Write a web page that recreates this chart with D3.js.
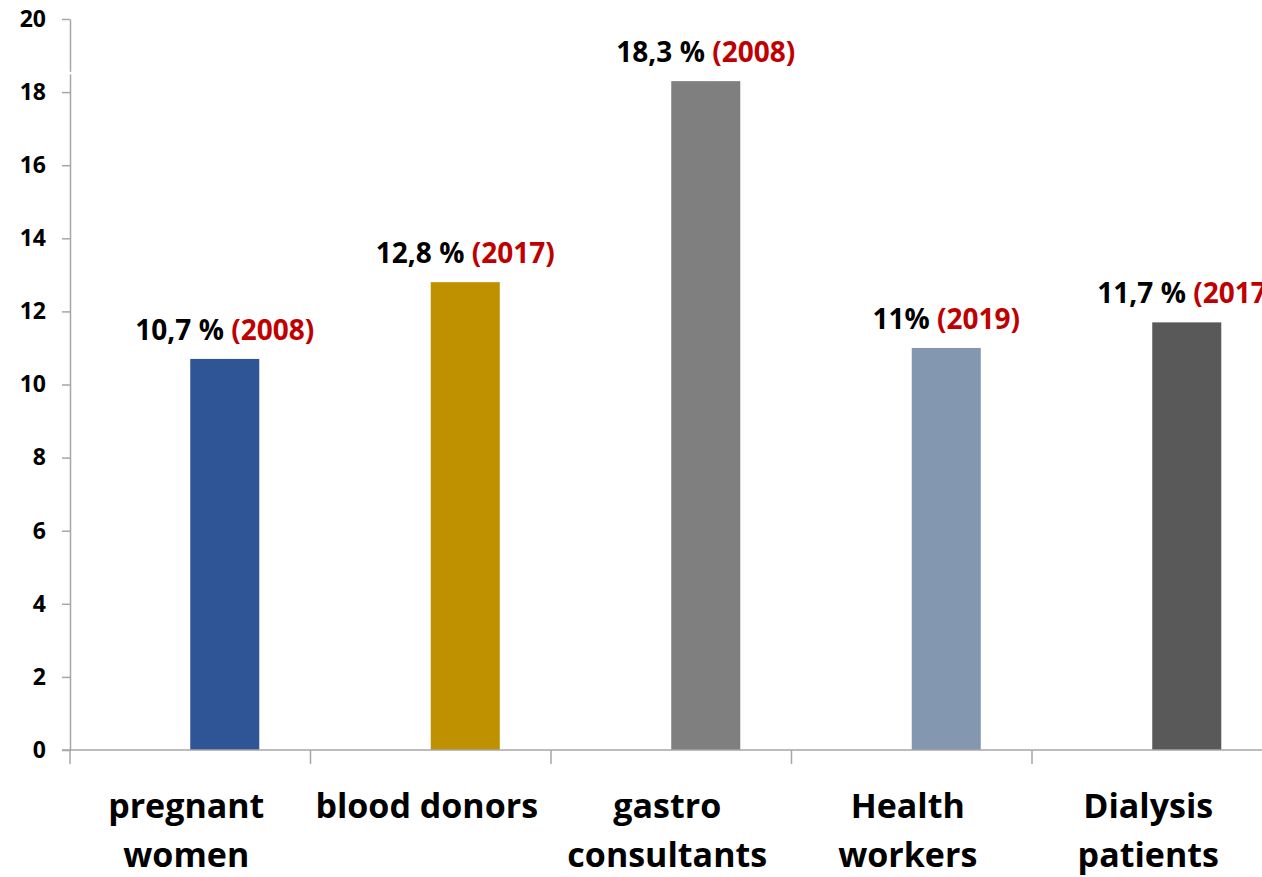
<!DOCTYPE html>
<html>
<head>
<meta charset="utf-8">
<script src="https://cdn.jsdelivr.net/npm/d3@7"></script>
<style>
  body { margin: 0; background: #fff; }
  svg { display: block; font-family: "Open Sans", "Liberation Sans", sans-serif; }
</style>
</head>
<body>
<div id="chart"></div>
<script>
var categories = ['pregnant|women', 'blood donors', 'gastro|consultants', 'Health|workers', 'Dialysis|patients'];
var values = [10.7, 12.8, 18.3, 11, 11.7];
var valueLabels = ['10,7 %', '12,8 %', '18,3 %', '11%', '11,7 %'];
var yearLabels = ['(2008)', '(2017)', '(2008)', '(2019)', '(2017)'];
var colors = ['#2F5597', '#BF9000', '#7F7F7F', '#8497B0', '#595959'];
var yTicks = [0, 2, 4, 6, 8, 10, 12, 14, 16, 18, 20];

var width = 1262, height = 877;
var plotLeft = 70, plotBottom = 750, plotTop = 19;

var svg = d3.select('#chart').append('svg')
  .attr('width', width)
  .attr('height', height);

var x = d3.scaleBand()
  .domain(categories)
  .range([plotLeft, plotLeft + 5 * 240.5])
  .padding(0);

var y = d3.scaleLinear()
  .domain([0, 20])
  .range([plotBottom, plotTop]);

var barW = x.bandwidth() * 0.287;

// bars sit to the right of band centre (second series empty)
svg.selectAll('.bar')
  .data(categories)
  .enter()
  .append('rect')
  .attr('class', 'bar')
  .attr('x', function(d) { return x(d) + x.bandwidth() / 2; })
  .attr('y', function(d, i) { return y(values[i]); })
  .attr('width', barW)
  .attr('height', function(d, i) { return plotBottom - y(values[i]); })
  .attr('fill', function(d, i) { return colors[i]; });

// y axis
var yAxis = d3.axisLeft(y)
  .tickValues(yTicks)
  .tickSize(8)
  .tickSizeOuter(0)
  .tickPadding(16);

var gy = svg.append('g')
  .attr('transform', 'translate(' + plotLeft + ',0)')
  .call(yAxis)
  .attr('font-family', '"Open Sans", sans-serif')
  .attr('font-size', 23);

gy.select('.domain').attr('stroke', '#a6a6a6').attr('stroke-width', 1.5);
gy.selectAll('.tick line').attr('stroke', '#a6a6a6').attr('stroke-width', 1.5);
gy.selectAll('.tick text')
  .attr('fill', '#000')
  .style('font-size', '23px')
  .style('font-weight', 'bold');

// small break in the axis line near the top
svg.append('line')
  .attr('x1', plotLeft - 2).attr('x2', plotLeft + 2)
  .attr('y1', y(18.52)).attr('y2', y(18.52))
  .attr('stroke', '#fff')
  .attr('stroke-width', 2.5);

// x axis
var bounds = categories.map(function(c) { return x(c); }).concat([x.range()[1]]);
svg.append('line')
  .attr('x1', plotLeft - 8).attr('x2', width)
  .attr('y1', plotBottom).attr('y2', plotBottom)
  .attr('stroke', '#a6a6a6')
  .attr('stroke-width', 1.5);

svg.selectAll('.xtick')
  .data(bounds)
  .enter()
  .append('line')
  .attr('class', 'xtick')
  .attr('x1', function(d) { return d; })
  .attr('x2', function(d) { return d; })
  .attr('y1', plotBottom)
  .attr('y2', plotBottom + 14)
  .attr('stroke', '#a6a6a6')
  .attr('stroke-width', 1.5);

// category labels
var catLabel = svg.selectAll('.cat')
  .data(categories)
  .enter()
  .append('text')
  .attr('class', 'cat')
  .attr('text-anchor', 'middle')
  .style('font-size', '34px')
  .style('font-weight', 'bold')
  .attr('fill', '#000');

catLabel.selectAll('tspan')
  .data(function(d) {
    var c = x(d) + x.bandwidth() / 2 - 4;
    return d.split('|').map(function(t, j) { return { t: t, x: c, j: j }; });
  })
  .enter()
  .append('tspan')
  .attr('x', function(d) { return d.x; })
  .attr('y', function(d) { return 818 + d.j * 49; })
  .text(function(d) { return d.t; });

// value labels
var vl = svg.selectAll('.val')
  .data(categories)
  .enter()
  .append('text')
  .attr('class', 'val')
  .attr('text-anchor', 'middle')
  .attr('x', function(d) { return x(d) + x.bandwidth() / 2 + barW / 2; })
  .attr('y', function(d, i) { return y(values[i]) - 19; })
  .style('font-size', '28px')
  .style('font-weight', 'bold');

vl.append('tspan')
  .attr('fill', '#000')
  .text(function(d, i) { return valueLabels[i] + ' '; });

vl.append('tspan')
  .attr('fill', '#C00000')
  .text(function(d, i) { return yearLabels[i]; });
</script>
</body>
</html>
